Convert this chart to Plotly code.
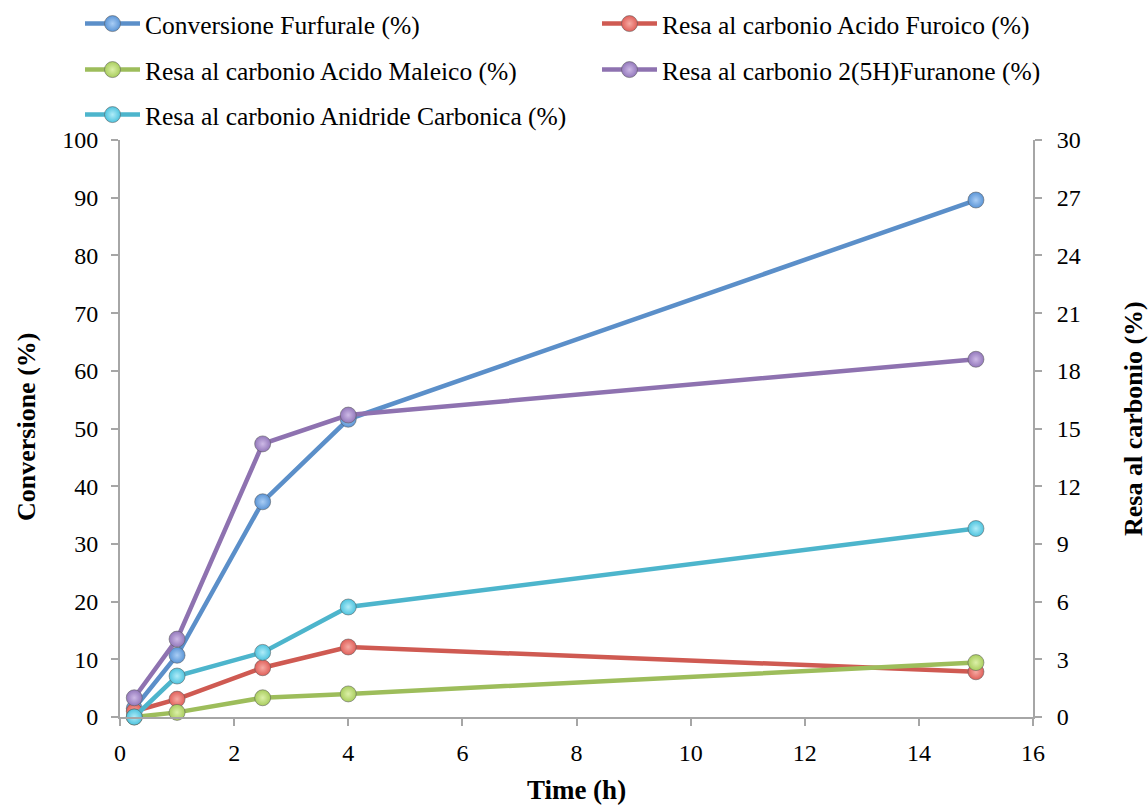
import plotly.graph_objects as go

# Reaction time (h)
time_h = [0.25, 1, 2.5, 4, 15]

# Furfural conversion (%), left axis
conv_furfurale = [1.5, 10.7, 37.3, 51.6, 89.6]

# Carbon yields (%), right axis
resa_furoico = [0.3, 0.93, 2.56, 3.64, 2.35]
resa_maleico = [0.0, 0.24, 1.0, 1.2, 2.83]
resa_furanone = [1.0, 4.05, 14.2, 15.7, 18.6]
resa_co2 = [0.0, 2.13, 3.36, 5.72, 9.8]

names = [
    "Conversione Furfurale (%)",
    "Resa al carbonio Acido Furoico (%)",
    "Resa al carbonio Acido Maleico (%)",
    "Resa al carbonio 2(5H)Furanone (%)",
    "Resa al carbonio Anidride Carbonica (%)",
]

FONT = "Liberation Serif, Times New Roman, serif"
AXIS_GREY = "#a6a6a6"
W, H = 1148, 805

series = [
    # values, axis, line colour, marker colour, highlight
    (conv_furfurale, "y", "#5b8fc9", "#5b95d6", "#a9cdf5"),
    (resa_furoico, "y2", "#cf5a52", "#e0605a", "#f6aaa3"),
    (resa_maleico, "y2", "#9dbd5b", "#a9cd5e", "#dcf0a8"),
    (resa_furanone, "y2", "#8e72b0", "#9378bb", "#cdb9e6"),
    (resa_co2, "y2", "#4db5cc", "#4ec3de", "#b0ecf8"),
]

# one legend per entry: two columns, three rows
legend_ids = ["legend", "legend2", "legend3", "legend4", "legend5"]
legend_pos = [(80, 24), (597, 24), (80, 70), (597, 70), (80, 115)]

fig = go.Figure()
for (vals, yax, lc, mc, hc), name, leg in zip(series, names, legend_ids):
    fig.add_trace(
        go.Scatter(
            x=time_h,
            y=vals,
            name=name,
            yaxis=yax,
            legend=leg,
            mode="lines+markers",
            cliponaxis=False,
            line=dict(color=lc, width=4.5),
            marker=dict(
                size=16,
                color=mc,
                gradient=dict(type="radial", color=hc),
                line=dict(color="rgba(90,90,90,0.55)", width=1),
            ),
        )
    )

legend_layout = {}
for leg, (px, py) in zip(legend_ids, legend_pos):
    legend_layout[leg] = dict(
        xref="container",
        yref="container",
        x=px / W,
        y=1 - py / H,
        xanchor="left",
        yanchor="middle",
        font=dict(family=FONT, size=25.5, color="black"),
        bgcolor="rgba(0,0,0,0)",
        itemwidth=55,
    )

axis_common = dict(
    showgrid=False,
    zeroline=False,
    showline=True,
    linecolor=AXIS_GREY,
    linewidth=2,
    ticks="outside",
    ticklen=7,
    tickcolor=AXIS_GREY,
    tickwidth=2,
    tickfont=dict(family=FONT, size=24),
)
title_font = dict(family=FONT, size=26, color="black")

fig.update_layout(
    width=W,
    height=H,
    margin=dict(l=120, r=115, t=140, b=88, autoexpand=False),
    paper_bgcolor="white",
    plot_bgcolor="white",
    font=dict(family=FONT, size=24, color="black"),
    showlegend=True,
    **legend_layout,
    xaxis=dict(
        axis_common,
        range=[0, 16],
        dtick=2,
        tick0=0,
        ticklabelstandoff=6,
        title=dict(text="<b>Time (h)</b>", font=dict(title_font, size=27), standoff=18),
    ),
    yaxis=dict(
        axis_common,
        range=[0, 100],
        dtick=10,
        ticklabelstandoff=8,
    ),
    yaxis2=dict(
        axis_common,
        range=[0, 30],
        dtick=3,
        overlaying="y",
        side="right",
        ticklabelstandoff=10,
    ),
    annotations=[
        dict(
            text="<b>Conversione (%)</b>",
            xref="paper", yref="paper",
            x=(26 - 120) / (W - 235), y=(H - 88 - 427) / (H - 228),
            xanchor="center", yanchor="middle",
            textangle=-90, showarrow=False, font=title_font,
        ),
        dict(
            text="<b>Resa al carbonio (%)</b>",
            xref="paper", yref="paper",
            x=(1133 - 120) / (W - 235), y=(H - 88 - 419) / (H - 228),
            xanchor="center", yanchor="middle",
            textangle=-90, showarrow=False, font=title_font,
        ),
    ],
)

fig.write_html("out.html")
